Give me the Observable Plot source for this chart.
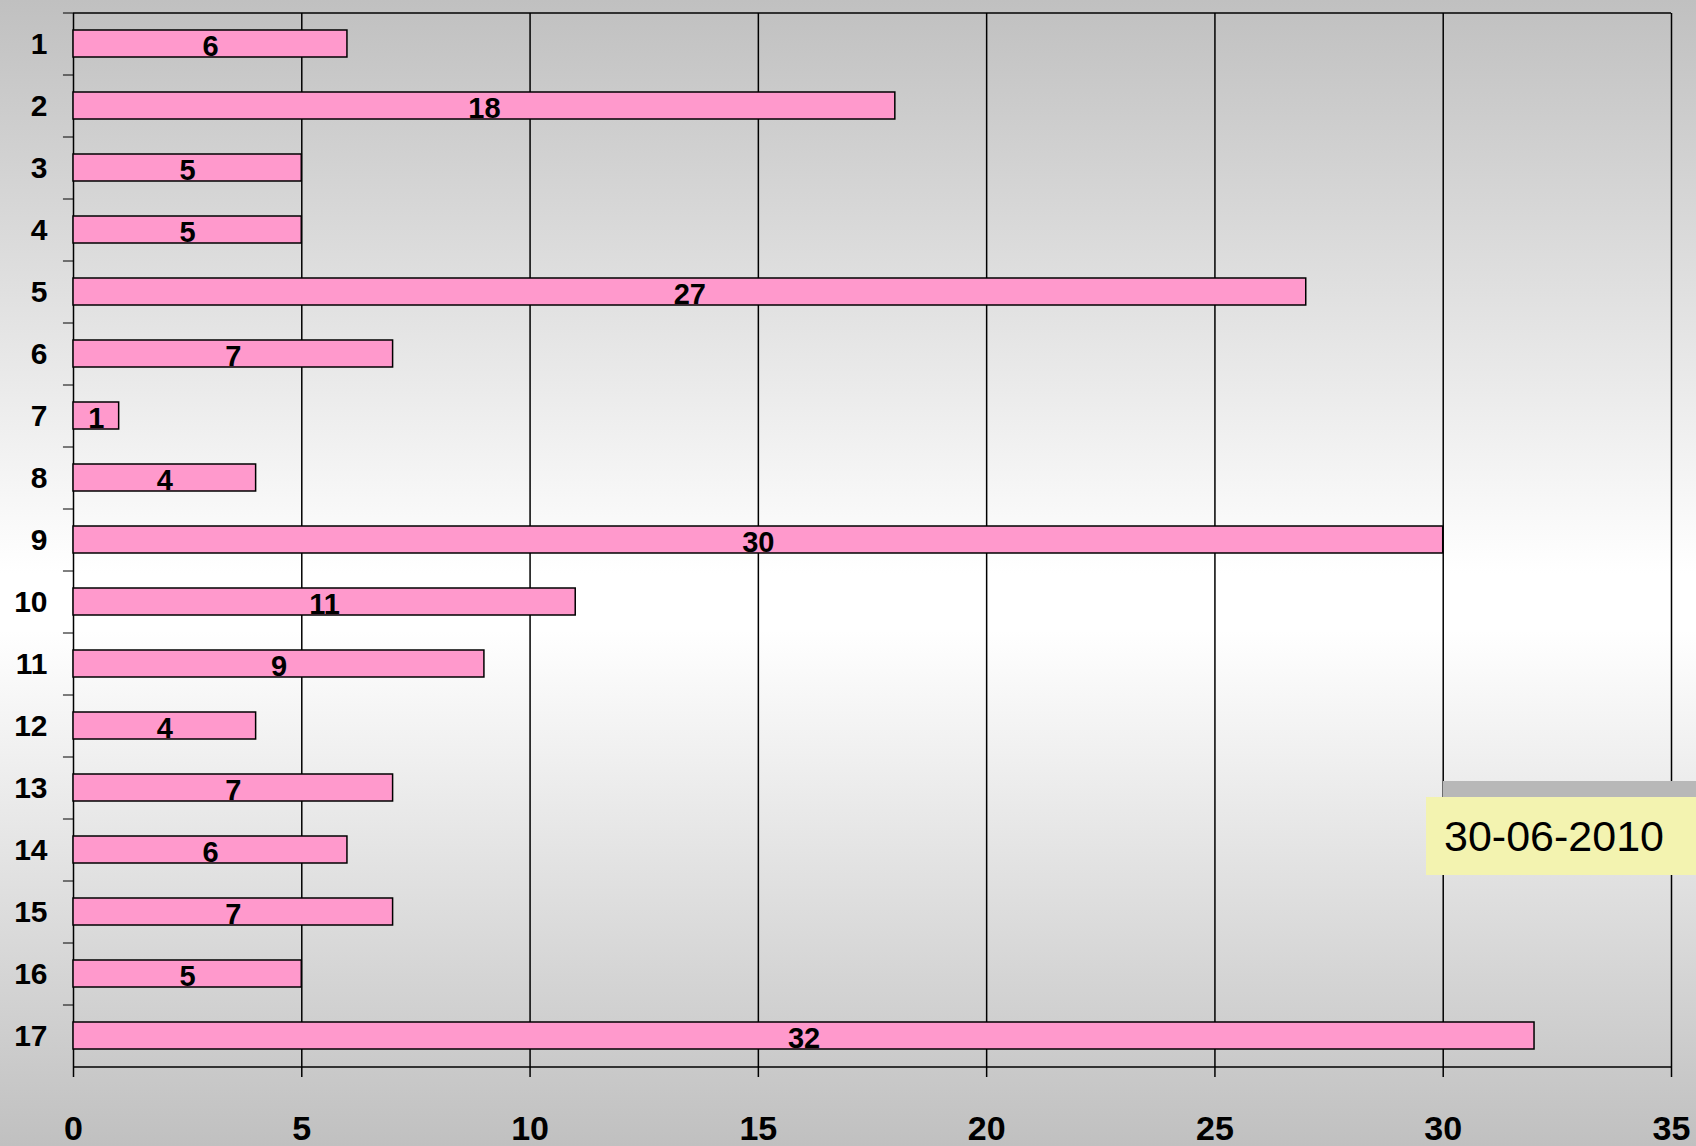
<!DOCTYPE html>
<html>
<head>
<meta charset="utf-8">
<script src="https://cdn.jsdelivr.net/npm/d3@7"></script>
<script src="https://cdn.jsdelivr.net/npm/@observablehq/plot@0.6"></script>
<style>
  body { margin: 0; width: 1696px; height: 1146px; overflow: hidden; position: relative;
    background: linear-gradient(to bottom, #c0c0c0 0%, #ffffff 50%, #ffffff 55%, #c0c0c0 100%);
    font-family: "Liberation Sans", Arial, sans-serif; }
  #date { position: absolute; left: 1426px; top: 797px; width: 270px; height: 78px;
    background: #f3f3b0; font-size: 43px; line-height: 78px; padding-left: 18px; box-sizing: border-box; white-space: nowrap; }
  #shadow { position: absolute; left: 1443px; top: 781px; width: 253px; height: 16px; background: #b8b8b8; }
</style>
</head>
<body>
<div id="chart"></div>
<div id="shadow"></div>
<div id="date">30-06-2010</div>
<script>
const categories = ["1","2","3","4","5","6","7","8","9","10","11","12","13","14","15","16","17"];
const values = [6, 18, 5, 5, 27, 7, 1, 4, 30, 11, 9, 4, 7, 6, 7, 5, 32];
const xTicks = [0, 5, 10, 15, 20, 25, 30, 35];

const data = categories.map((c, i) => ({cat: c, value: values[i]}));

const chart = Plot.plot({
  width: 1696,
  height: 1146,
  marginLeft: 73,
  marginRight: 25,
  marginTop: 13,
  marginBottom: 79,
  style: {background: "transparent", fontFamily: "Liberation Sans, Arial, sans-serif", overflow: "visible"},
  x: {domain: [0, 35], ticks: xTicks},
  y: {domain: categories, paddingInner: 0.56, paddingOuter: 0.28, label: null},
  marks: [
    Plot.ruleX(xTicks, {stroke: "black", strokeWidth: 1.5}),
    Plot.ruleY([0], {y: () => categories[0], dy: -31, stroke: "black", strokeWidth: 1.5}),
    Plot.ruleY([0], {y: () => categories[16], dy: 31, stroke: "black", strokeWidth: 1.5}),
    Plot.ruleY(categories, {y: d => d, x1: -0.22, x2: 0, dy: -31, stroke: "black", clip: false}),
    Plot.barX(data, {y: "cat", x: "value", fill: "#ff99cc", stroke: "black", strokeWidth: 1.5}),
    Plot.text(data, {y: "cat", x: d => d.value / 2, text: d => String(d.value), fontSize: 29, fontWeight: "bold", fill: "black", dy: 3}),
    Plot.axisY({tickSize: 0, tickPadding: 26, fontSize: 30, fontWeight: "bold", label: null}),
    Plot.axisX({ticks: xTicks, tickSize: 10, tickPadding: 38, fontSize: 34, fontWeight: "bold", label: null, strokeWidth: 1.5})
  ]
});
document.getElementById("chart").append(chart);
</script>
</body>
</html>
